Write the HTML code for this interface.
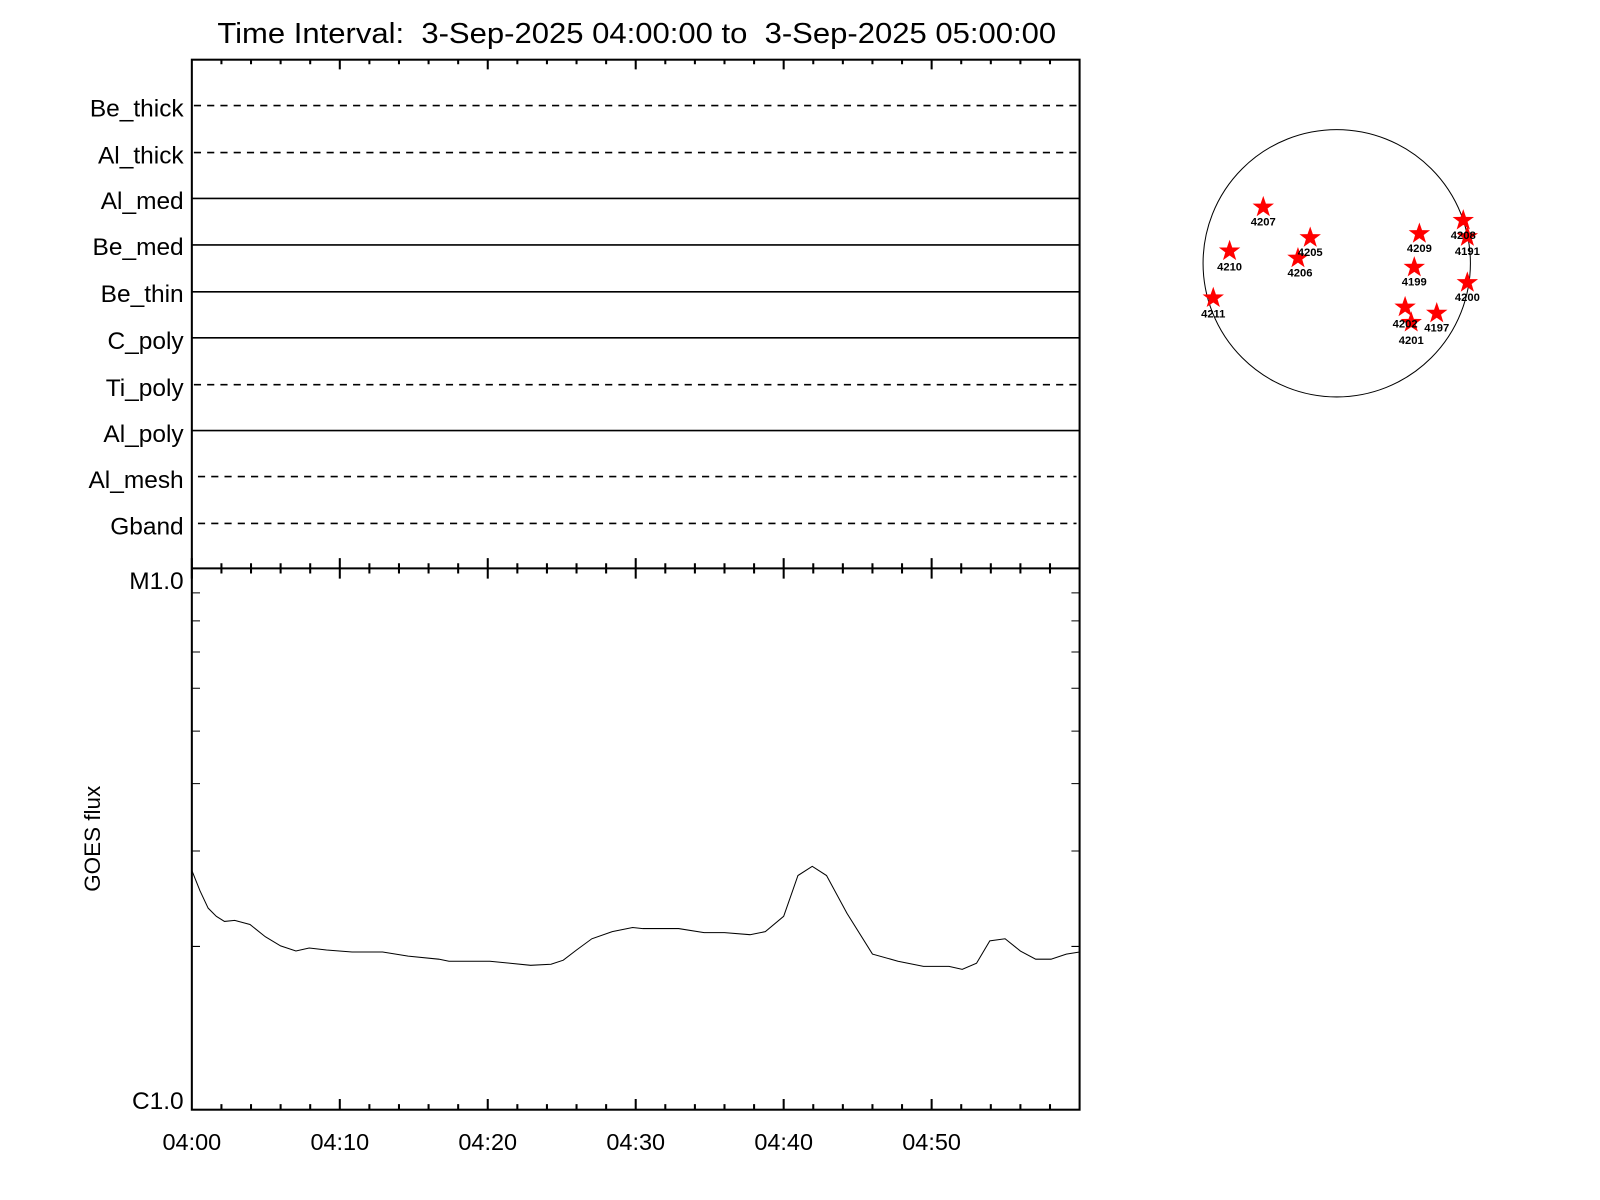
<!DOCTYPE html>
<html><head><meta charset="utf-8"><style>html,body{margin:0;padding:0;background:#fff}svg{display:block}</style></head>
<body>
<svg width="1600" height="1200" viewBox="0 0 1568 1176" xmlns="http://www.w3.org/2000/svg" font-family="Liberation Sans, Arial, sans-serif">
<rect width="1568" height="1176" fill="#fff"/>
<text x="624" y="42" font-size="28" text-anchor="middle" textLength="822" lengthAdjust="spacingAndGlyphs">Time Interval:&#160; 3-Sep-2025 04:00:00 to&#160; 3-Sep-2025 05:00:00</text>
<g stroke="#000" stroke-width="2" fill="none">
<rect x="188" y="58.5" width="870" height="1029"/>
<line x1="188" y1="557" x2="1058" y2="557"/>
</g>
<g stroke="#000" stroke-width="2">
<path d="M217,58v5M246,58v5M275,58v5M304,58v5M362,58v5M391,58v5M420,58v5M449,58v5M507,58v5M536,58v5M565,58v5M594,58v5M652,58v5M681,58v5M710,58v5M739,58v5M797,58v5M826,58v5M855,58v5M884,58v5M942,58v5M971,58v5M1000,58v5M1029,58v5M333,58v10M478,58v10M623,58v10M768,58v10M913,58v10"/>
<path d="M217,552v10M246,552v10M275,552v10M304,552v10M362,552v10M391,552v10M420,552v10M449,552v10M507,552v10M536,552v10M565,552v10M594,552v10M652,552v10M681,552v10M710,552v10M739,552v10M797,552v10M826,552v10M855,552v10M884,552v10M942,552v10M971,552v10M1000,552v10M1029,552v10M188,547v20M333,547v20M478,547v20M623,547v20M768,547v20M913,547v20"/>
<path d="M217,1087v-5M246,1087v-5M275,1087v-5M304,1087v-5M362,1087v-5M391,1087v-5M420,1087v-5M449,1087v-5M507,1087v-5M536,1087v-5M565,1087v-5M594,1087v-5M652,1087v-5M681,1087v-5M710,1087v-5M739,1087v-5M797,1087v-5M826,1087v-5M855,1087v-5M884,1087v-5M942,1087v-5M971,1087v-5M1000,1087v-5M1029,1087v-5M333,1087v-10M478,1087v-10M623,1087v-10M768,1087v-10M913,1087v-10"/>
</g>
<g stroke="#000" stroke-width="1">
<path d="M188,581h8M188,608.5h8M188,639h8M188,674.5h8M188,716.5h8M188,768h8M188,834h8M188,927.5h8M1058,581h-8M1058,608.5h-8M1058,639h-8M1058,674.5h-8M1058,716.5h-8M1058,768h-8M1058,834h-8M1058,927.5h-8"/>
</g>
<g stroke="#000" stroke-width="1.6">
<line x1="190" y1="103.5" x2="1058" y2="103.5" stroke-dasharray="7,6"/>
<line x1="190" y1="149.5" x2="1058" y2="149.5" stroke-dasharray="7,6"/>
<line x1="188" y1="194.5" x2="1058" y2="194.5"/>
<line x1="188" y1="240" x2="1058" y2="240"/>
<line x1="188" y1="286" x2="1058" y2="286"/>
<line x1="188" y1="331" x2="1058" y2="331"/>
<line x1="190" y1="377" x2="1058" y2="377" stroke-dasharray="7,6"/>
<line x1="188" y1="422" x2="1058" y2="422"/>
<line x1="194" y1="467" x2="1055" y2="467" stroke-dasharray="7,6"/>
<line x1="194" y1="513" x2="1055" y2="513" stroke-dasharray="7,6"/>
</g>
<g font-size="24" text-anchor="end">
<text x="180" y="114">Be_thick</text>
<text x="180" y="160">Al_thick</text>
<text x="180" y="205">Al_med</text>
<text x="180" y="250">Be_med</text>
<text x="180" y="296">Be_thin</text>
<text x="180" y="342">C_poly</text>
<text x="180" y="388">Ti_poly</text>
<text x="180" y="433">Al_poly</text>
<text x="180" y="478">Al_mesh</text>
<text x="180" y="524">Gband</text>
<text x="180" y="577">M1.0</text>
<text x="180" y="1087">C1.0</text>
</g>
<g font-size="23" text-anchor="middle">
<text x="188" y="1127">04:00</text>
<text x="333" y="1127">04:10</text>
<text x="478" y="1127">04:20</text>
<text x="623" y="1127">04:30</text>
<text x="768" y="1127">04:40</text>
<text x="913" y="1127">04:50</text>
</g>
<text transform="translate(98,822) rotate(-90)" font-size="22" text-anchor="middle">GOES flux</text>
<polyline fill="none" stroke="#000" stroke-width="1" points="188,853 196,873 204,890 212,898 220,903 230,902 245,906 260,918 275,927 290,932 303,929 320,931 345,933 375,933 400,937 430,940 440,942 480,942 500,944 520,946 540,945 552,941 565,931 580,920 600,913 620,909 630,910 665,910 690,914 710,914 735,916 750,913 768,898 782,858 796,849 810,858 830,895 855,935 880,942 905,947 930,947 943,950 957,944 970,922 985,920 1000,932 1015,940 1030,940 1045,935 1058,933"/>
<circle cx="1310" cy="258" r="131" fill="none" stroke="#000" stroke-width="1"/>
<defs><polygon id="st" points="0,-11 2.6,-3.5 10.5,-3.4 4.2,1.3 6.5,8.9 0,4.4 -6.5,8.9 -4.2,1.3 -10.5,-3.4 -2.6,-3.5" fill="#f00"/></defs>
<g>
<use href="#st" x="1238" y="203"/><use href="#st" x="1284" y="233"/><use href="#st" x="1272" y="253"/>
<use href="#st" x="1205" y="246"/><use href="#st" x="1189" y="292"/><use href="#st" x="1391" y="229"/>
<use href="#st" x="1386" y="262"/><use href="#st" x="1377" y="301"/><use href="#st" x="1383" y="316"/>
<use href="#st" x="1408" y="307"/><use href="#st" x="1434" y="216"/><use href="#st" x="1438" y="232"/>
<use href="#st" x="1438" y="277"/>
</g>
<g font-size="11" text-anchor="middle" font-weight="bold">
<text x="1238" y="221">4207</text><text x="1284" y="251">4205</text><text x="1274" y="271">4206</text>
<text x="1205" y="265">4210</text><text x="1189" y="311">4211</text><text x="1391" y="247">4209</text>
<text x="1386" y="280">4199</text><text x="1377" y="321">4202</text><text x="1383" y="337">4201</text>
<text x="1408" y="325">4197</text><text x="1434" y="234">4208</text><text x="1438" y="250">4191</text>
<text x="1438" y="295">4200</text>
</g>
</svg>
</body></html>
